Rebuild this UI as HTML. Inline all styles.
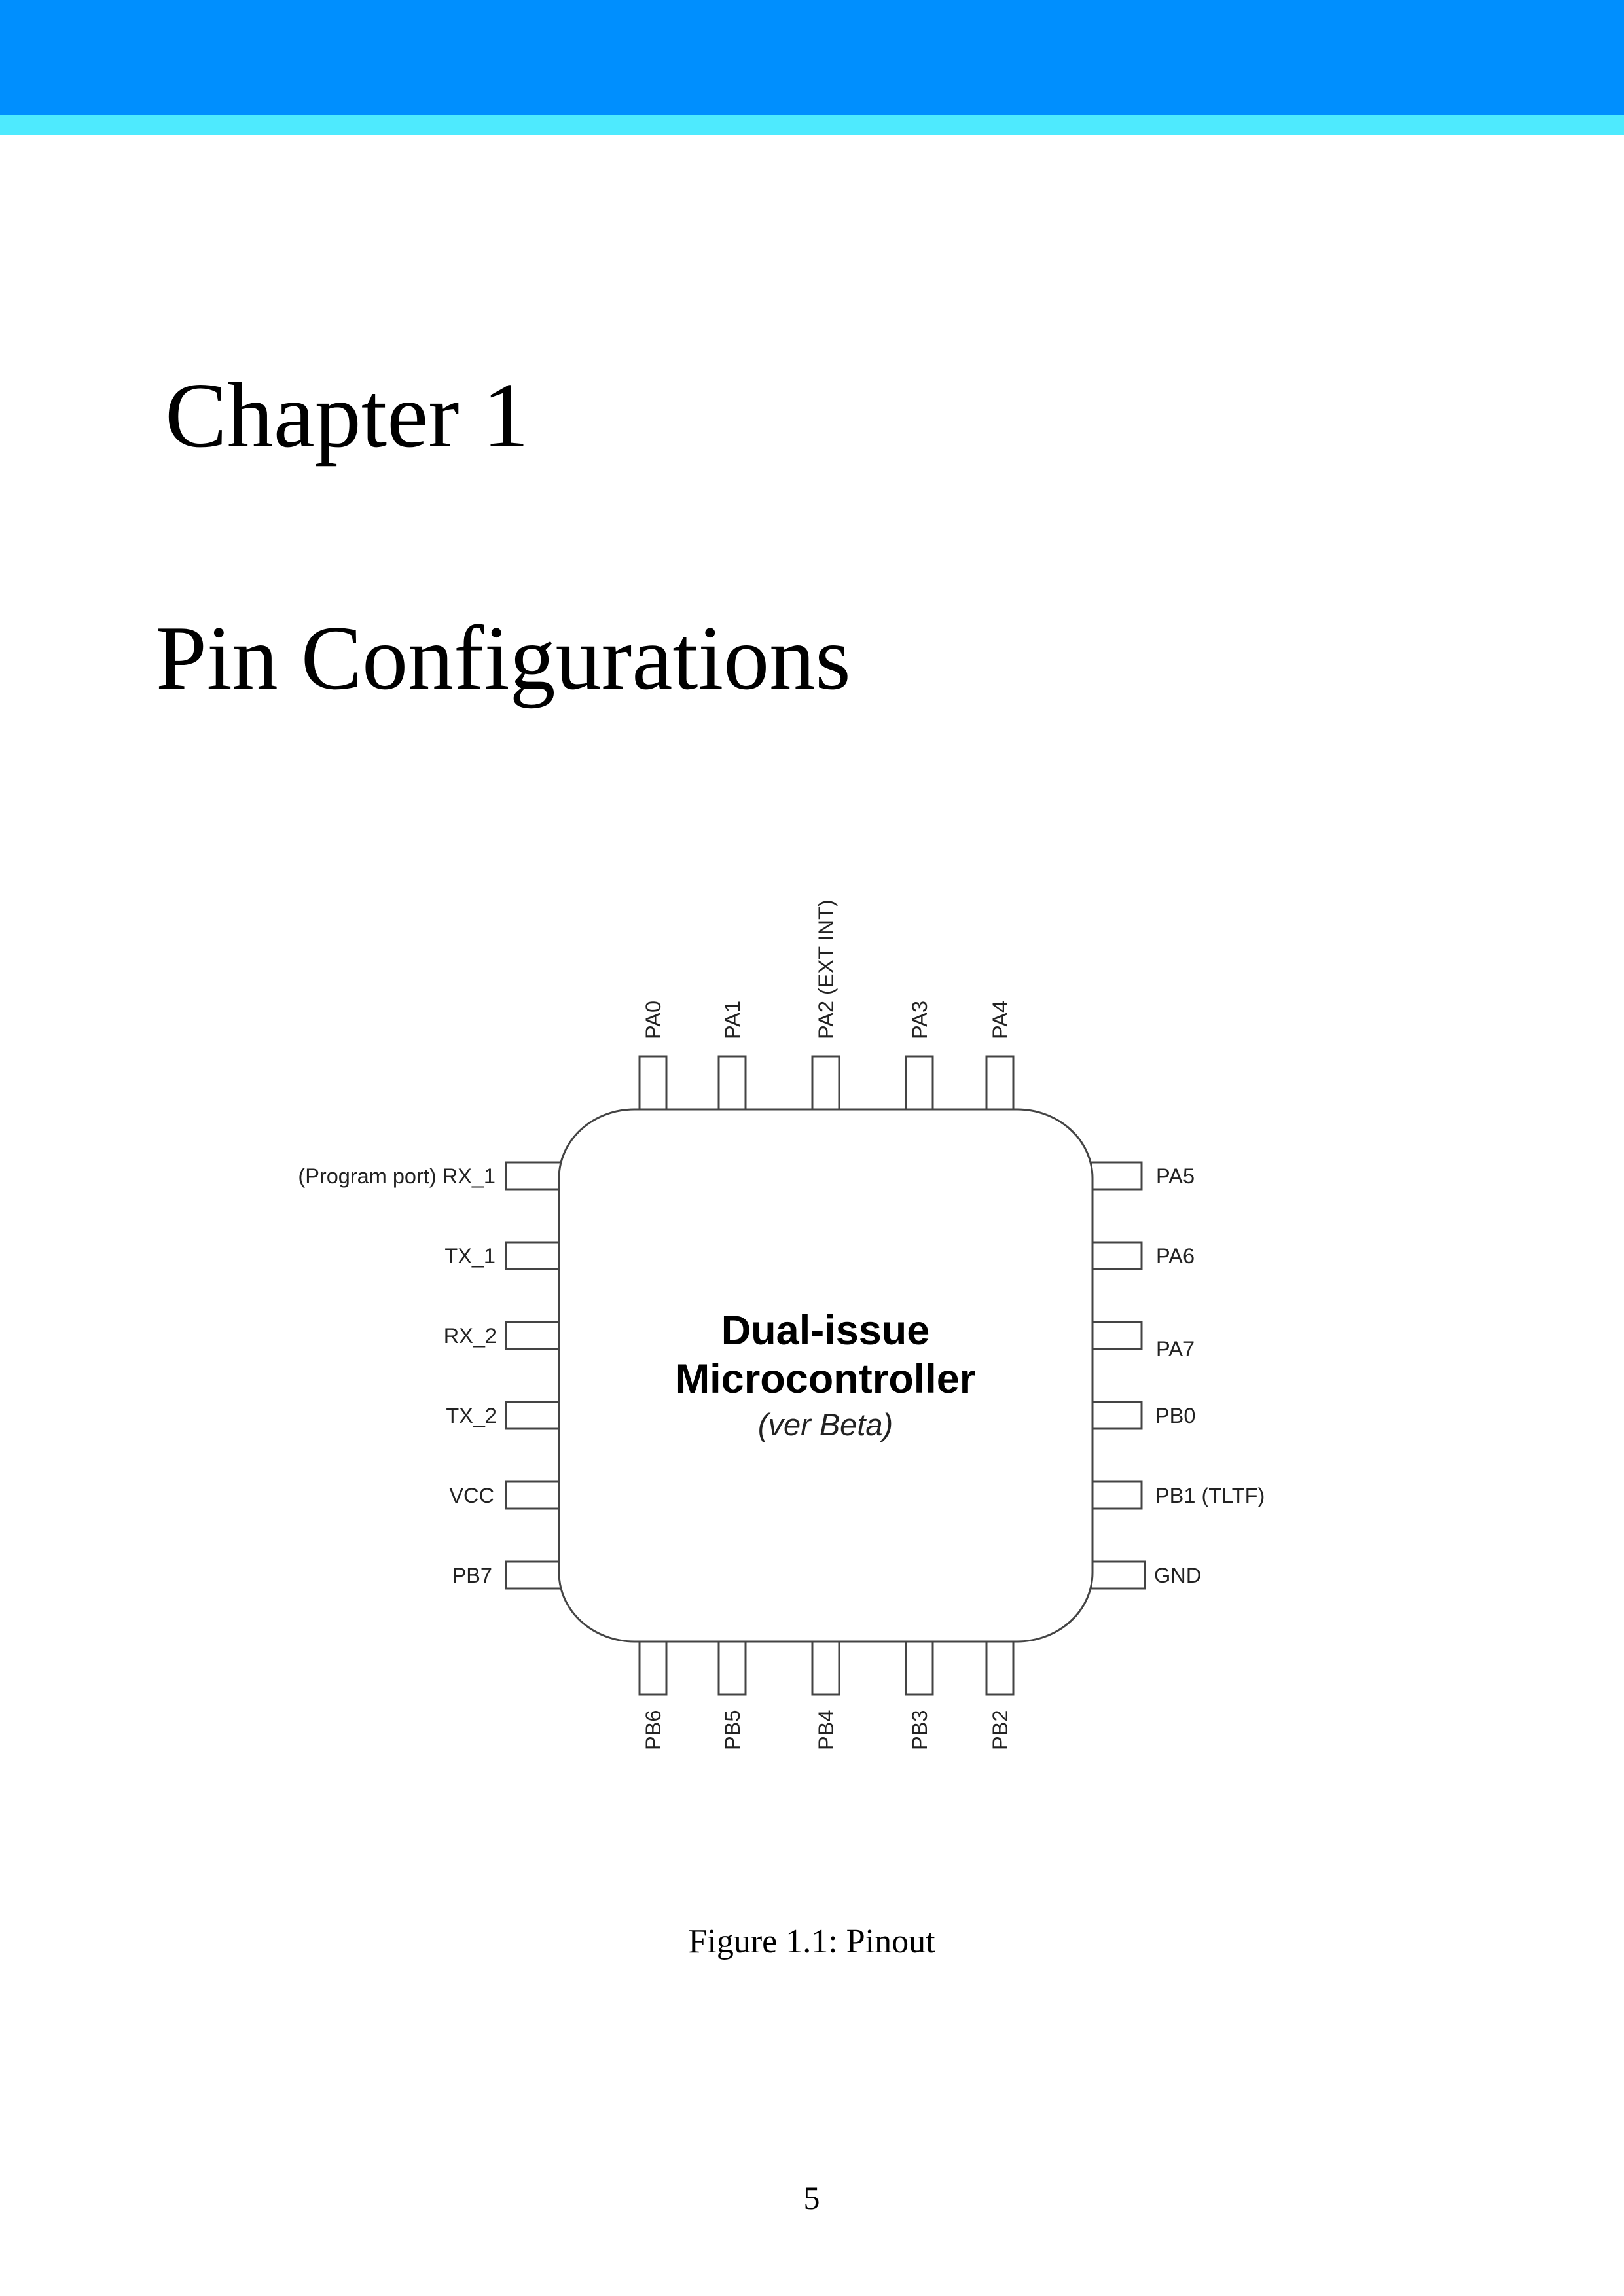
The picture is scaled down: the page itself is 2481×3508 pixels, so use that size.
<!DOCTYPE html>
<html><head><meta charset="utf-8"><style>
html,body{margin:0;padding:0;background:#fff;}
body{width:2481px;height:3508px;position:relative;overflow:hidden;}
</style></head><body>
<svg width="2481" height="3508" viewBox="0 0 2481 3508" xmlns="http://www.w3.org/2000/svg" style="position:absolute;left:0;top:0">
<rect x="0" y="0" width="2481" height="176" fill="#008ffe"/>
<rect x="0" y="175" width="2481" height="31" fill="#4eeafe"/>
<text x="252" y="682" font-family="Liberation Serif, serif" font-size="142" fill="#000">Chapter 1</text>
<text x="238" y="1052" font-family="Liberation Serif, serif" font-size="140" fill="#000">Pin Configurations</text>

<g fill="#fff" stroke="#444" stroke-width="3">
<rect x="977" y="1614" width="41" height="81"/>
<rect x="1098" y="1614" width="41" height="81"/>
<rect x="1241" y="1614" width="41" height="81"/>
<rect x="1384" y="1614" width="41" height="81"/>
<rect x="1507" y="1614" width="41" height="81"/>
<rect x="977" y="2508" width="41" height="81"/>
<rect x="1098" y="2508" width="41" height="81"/>
<rect x="1241" y="2508" width="41" height="81"/>
<rect x="1384" y="2508" width="41" height="81"/>
<rect x="1507" y="2508" width="41" height="81"/>
<rect x="773" y="1776" width="84" height="41"/>
<rect x="773" y="1898" width="84" height="41"/>
<rect x="773" y="2020" width="84" height="41"/>
<rect x="773" y="2142" width="84" height="41"/>
<rect x="773" y="2264" width="84" height="41"/>
<rect x="773" y="2386" width="84" height="41"/>
<rect x="1667" y="1776" width="77" height="41"/>
<rect x="1667" y="1898" width="77" height="41"/>
<rect x="1667" y="2020" width="77" height="41"/>
<rect x="1667" y="2142" width="77" height="41"/>
<rect x="1667" y="2264" width="77" height="41"/>
<rect x="1667" y="2386" width="82" height="41"/>
<rect x="854" y="1695" width="815" height="813" rx="115" ry="105"/>
</g>

<g font-family="Liberation Sans, Arial, sans-serif" font-size="32.5" fill="#222">
<text transform="translate(1009,1588) rotate(-90)">PA0</text>
<text transform="translate(1130,1588) rotate(-90)">PA1</text>
<text transform="translate(1273,1588) rotate(-90)">PA2 (EXT INT)</text>
<text transform="translate(1416,1588) rotate(-90)">PA3</text>
<text transform="translate(1539,1588) rotate(-90)">PA4</text>
<text transform="translate(1009,2674) rotate(-90)">PB6</text>
<text transform="translate(1130,2674) rotate(-90)">PB5</text>
<text transform="translate(1273,2674) rotate(-90)">PB4</text>
<text transform="translate(1416,2674) rotate(-90)">PB3</text>
<text transform="translate(1539,2674) rotate(-90)">PB2</text>
<g text-anchor="end">
<text x="757" y="1808">(Program port) RX_1</text>
<text x="757" y="1930">TX_1</text>
<text x="759" y="2052">RX_2</text>
<text x="759" y="2174">TX_2</text>
<text x="755" y="2296">VCC</text>
<text x="752" y="2418">PB7</text>
</g>
<text x="1766" y="1808">PA5</text>
<text x="1766" y="1930">PA6</text>
<text x="1766" y="2072">PA7</text>
<text x="1765" y="2174">PB0</text>
<text x="1765" y="2296">PB1 (TLTF)</text>
<text x="1763" y="2418">GND</text>
</g>
<g font-family="Liberation Sans, Arial, sans-serif" text-anchor="middle" fill="#000">
<text x="1261" y="2054" font-size="63" font-weight="bold">Dual-issue</text>
<text x="1261" y="2128" font-size="63" font-weight="bold">Microcontroller</text>
<text x="1261" y="2193" font-size="47" font-style="italic" fill="#222">(ver Beta)</text>
</g>
<text x="1240" y="2983" text-anchor="middle" font-family="Liberation Serif, serif" font-size="52" fill="#000">Figure 1.1:  Pinout</text>
<text x="1240" y="3375" text-anchor="middle" font-family="Liberation Serif, serif" font-size="50" fill="#000">5</text>
</svg>
</body></html>
